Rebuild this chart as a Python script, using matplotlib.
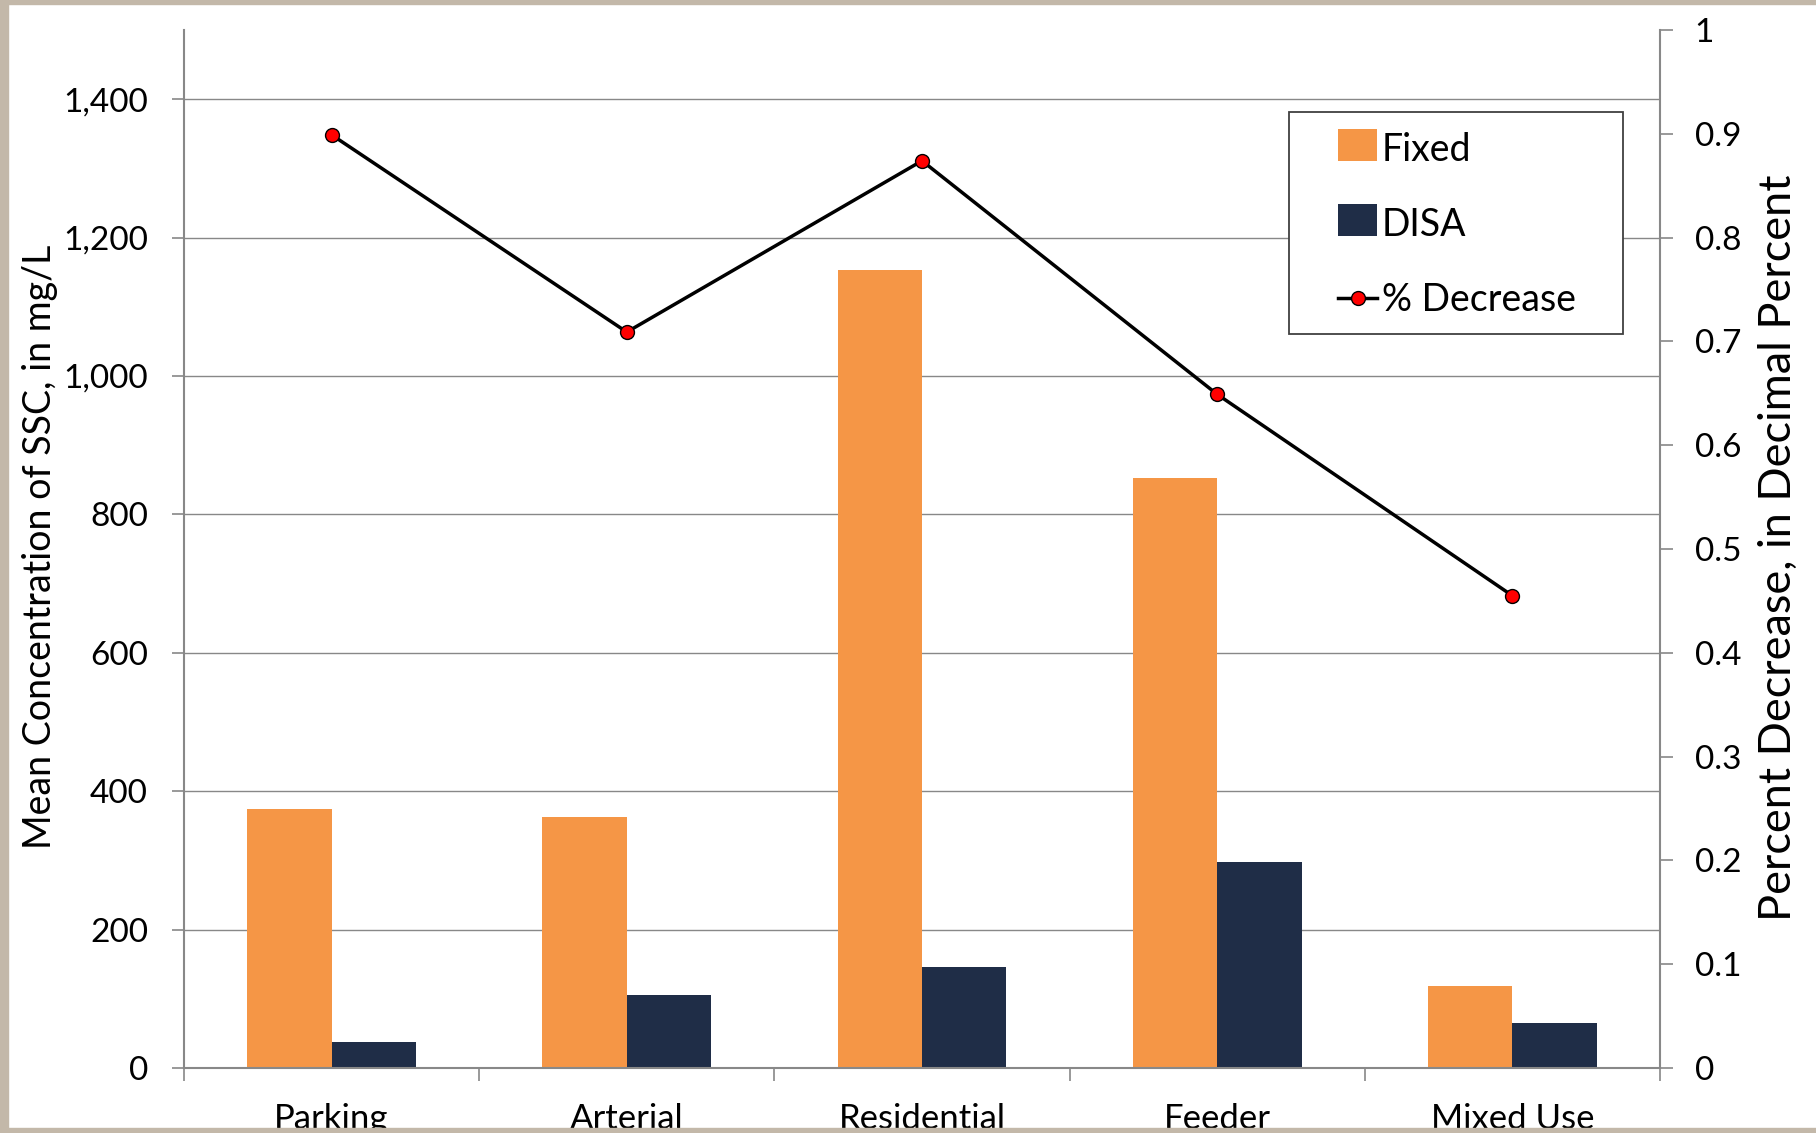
import matplotlib
matplotlib.use("Agg")
import matplotlib.pyplot as plt
from matplotlib.patches import Rectangle
from matplotlib.lines import Line2D
from matplotlib.patches import Patch
import numpy as np

categories = ["Parking", "Arterial", "Residential", "Feeder", "Mixed Use"]
fixed_ssc = [374, 363, 1153, 853, 119]
disa_ssc = [37, 105, 146, 298, 65]
pct_decrease = [0.899, 0.709, 0.874, 0.649, 0.455]

left_ticks = [0, 200, 400, 600, 800, 1000, 1200, 1400]
right_ticks = [0, 0.1, 0.2, 0.3, 0.4, 0.5, 0.6, 0.7, 0.8, 0.9, 1]

ORANGE = "#F59646"
NAVY = "#1F2D47"
GRID = "#888888"
BORDER = "#C3B8A9"

plt.rcParams["font.family"] = ["Lato", "DejaVu Sans"]

W, H = 1816, 1133
fig = plt.figure(figsize=(W / 100, H / 100), dpi=100)

ax = fig.add_axes([184 / W, 1 - 1068 / H, (1660 - 184) / W, (1068 - 30) / H])
ax2 = ax.twinx()

x = np.arange(len(categories))
bw = 1 / 3.5
ax.bar(x - bw / 2, fixed_ssc, width=bw, color=ORANGE, zorder=2)
ax.bar(x + bw / 2, disa_ssc, width=bw, color=NAVY, zorder=2)

ax.set_xlim(-0.5, len(categories) - 0.5)
ax.set_ylim(0, 1500)
ax.set_yticks(left_ticks)
ax.set_yticklabels([f"{v:,}" for v in left_ticks])
ax.yaxis.grid(True, color=GRID, lw=1.0)
ax.set_axisbelow(True)

ax.set_xticks(np.arange(-0.5, len(categories), 1.0))
ax.set_xticklabels([])
ax.set_xticks(x, minor=True)
ax.set_xticklabels(categories, minor=True)
ax.tick_params(axis="x", which="major", direction="out", length=9, width=1.2, color=GRID)
ax.tick_params(axis="x", which="minor", length=0, pad=25, labelsize=25)
ax.tick_params(axis="y", direction="out", length=9, width=1.2, color=GRID, pad=17, labelsize=24)

for s in ["top", "right"]:
    ax.spines[s].set_visible(False)
for s in ["left", "bottom"]:
    ax.spines[s].set_color(GRID)
    ax.spines[s].set_linewidth(1.5)

ax2.plot(x, pct_decrease, color="black", lw=2.5, marker="o", ms=10,
         mfc="red", mec="black", mew=1.0, zorder=3)
ax2.set_ylim(0, 1)
ax2.set_yticks(right_ticks)
ax2.set_yticklabels([f"{v:g}" for v in right_ticks])
ax2.tick_params(axis="y", direction="out", length=9, width=1.2, color=GRID, pad=16, labelsize=24)
for s in ["top", "left", "bottom"]:
    ax2.spines[s].set_visible(False)
ax2.spines["right"].set_color(GRID)
ax2.spines["right"].set_linewidth(1.5)

fig.text(40 / W, 1 - 547 / H, "Mean Concentration of SSC, in mg/L", rotation=90,
         ha="center", va="center", fontsize=27)
fig.text(1778 / W, 1 - 548 / H, "Percent Decrease, in Decimal Percent", rotation=90,
         ha="center", va="center", fontsize=32.5)

# legend frame and entries
ax2.add_patch(Rectangle((1289 / W, 1 - 334 / H), (1623 - 1289) / W, (334 - 112) / H,
                        transform=fig.transFigure, facecolor="white", clip_on=False,
                        edgecolor="#404040", lw=1.3, zorder=4.5))
handles = [
    Patch(facecolor=ORANGE, edgecolor="none"),
    Patch(facecolor=NAVY, edgecolor="none"),
    Line2D([], [], color="black", lw=2.5, marker="o", ms=10, mfc="red", mec="black", mew=1.0),
]
leg = ax2.legend(handles, ["Fixed", "DISA", "% Decrease"], loc="center left",
                 bbox_to_anchor=(1338 / W, 1 - 225 / H), bbox_transform=fig.transFigure,
                 fontsize=27, frameon=False, borderpad=0, labelspacing=1.04,
                 handlelength=1.04, handletextpad=0.13, borderaxespad=0)
leg.set_zorder(6)
for h in leg.legend_handles[:2]:
    h.set_height(23)

# page border
fig.patches.append(Rectangle((0, 0), 8 / W, 1, transform=fig.transFigure, color=BORDER, zorder=10))
fig.patches.append(Rectangle((0, 1 - 4 / H), 1, 4 / H, transform=fig.transFigure, color=BORDER, zorder=10))
fig.patches.append(Rectangle((0, 0), 1, 5 / H, transform=fig.transFigure, color=BORDER, zorder=10))

fig.savefig("out.png", dpi=100)
